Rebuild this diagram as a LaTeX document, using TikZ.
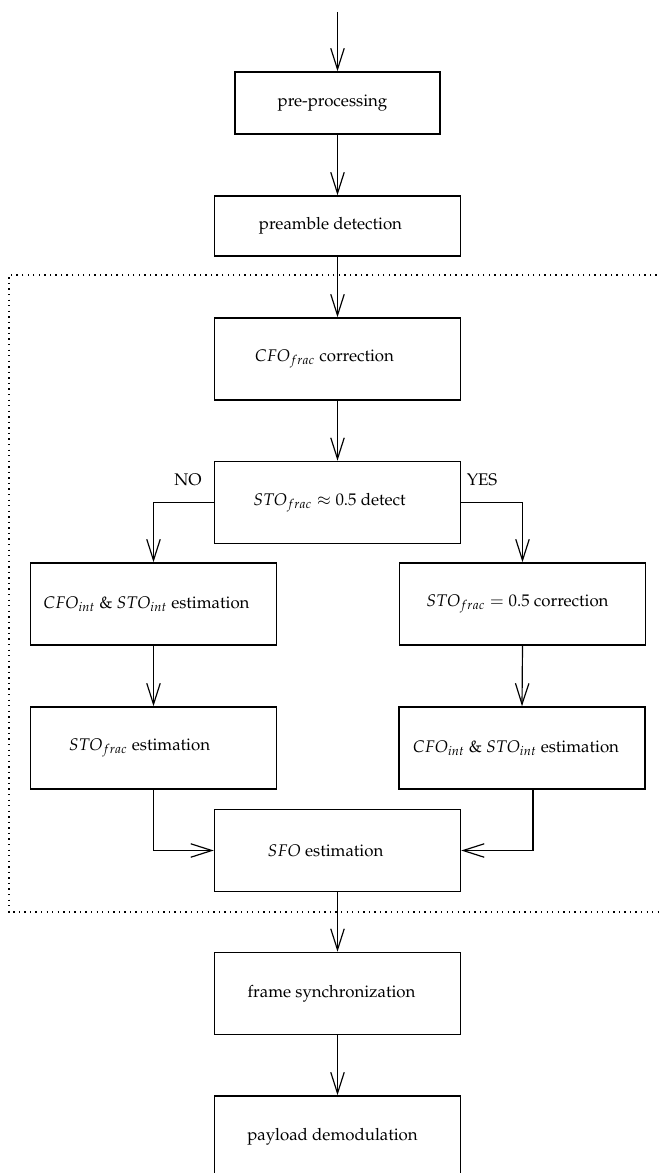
\documentclass[tikz,border=0pt]{standalone}
\usepackage[T1]{fontenc}
\usepackage{mathpazo}
\usetikzlibrary{arrows.meta}
\newcommand\tshift[1]{\kern#1\dimexpr1.188pt\relax}
\begin{document}
\begin{tikzpicture}[x=0.594pt,y=-0.594pt,
  box/.style={draw, line width=0.9pt, minimum width=146.1pt, minimum height=48.7pt, inner sep=0pt, font=\fontsize{10}{12}\selectfont},
  conn/.style={line width=0.7pt, -{Straight Barb[length=12.5pt,width=8pt]}},
  lab/.style={inner sep=0pt, font=\fontsize{10}{12}\selectfont},
  frameline/.style={line width=0.8pt, dash pattern=on 0.8pt off 2.5pt}]
\useasboundingbox (0,0) rectangle (658,1173);

% dotted region
\coordinate (dtr) at (690,275);
\coordinate (dtl) at (9,275);
\coordinate (dbl) at (9,912);
\coordinate (dbr) at (690,912);
\draw[frameline] (dtr) -- (dtl) -- (dbl) -- (dbr);

\node[box, minimum width=121.8pt, minimum height=36.8pt] (pre) at (337.5,103) {pre-processing\tshift{5}};
\node[box, minimum height=35.6pt] (pream) at (337.5,226) {preamble detection\tshift{7}};
\node[box] (cfo) at (337.5,359) {$CFO_{frac}$ correction\tshift{13}};
\node[box] (sto) at (337.5,502.5) {$STO_{frac}\approx 0.5$ detect\tshift{8}};
\node[box] (l1) at (153.5,604) {$CFO_{int}$ \& $STO_{int}$ estimation\tshift{7}};
\node[box] (r1) at (522.5,604) {$STO_{frac}=0.5$ correction\tshift{5}};
\node[box] (l2) at (153.5,748) {$STO_{frac}$ estimation\tshift{14}};
\node[box] (r2) at (522,748) {$CFO_{int}$ \& $STO_{int}$ estimation\tshift{6}};
\node[box] (sfo) at (337.5,850.5) {$SFO$ estimation\tshift{12}};
\node[box] (frame) at (337.5,993.5) {frame synchronization\tshift{6}};
\node[box] (pay) at (337.5,1137) {payload demodulation\tshift{5}};

\node[lab] (no) at (188,480) {NO};
\node[lab] (yes) at (482,480) {YES};

\coordinate (start) at (337.5,12);
\draw[conn] (start) -- (pre.north);
\draw[conn] (pre.south) -- (pream.north);
\draw[conn] (pream.south) -- (cfo.north);
\draw[conn] (cfo.south) -- (sto.north);
\draw[conn] (sto.west) -| (l1.north);
\draw[conn] (sto.east) -| (r1.north);
\draw[conn] (l1.south) -- (l2.north);
\draw[conn] (r1.south) -- (r2.north);
\draw[conn] (l2.south) |- (sfo.west);
\draw[conn] ([xshift=6.5pt]r2.south) |- (sfo.east);
\draw[conn] (sfo.south) -- (frame.north);
\draw[conn] (frame.south) -- (pay.north);
\end{tikzpicture}
\end{document}
